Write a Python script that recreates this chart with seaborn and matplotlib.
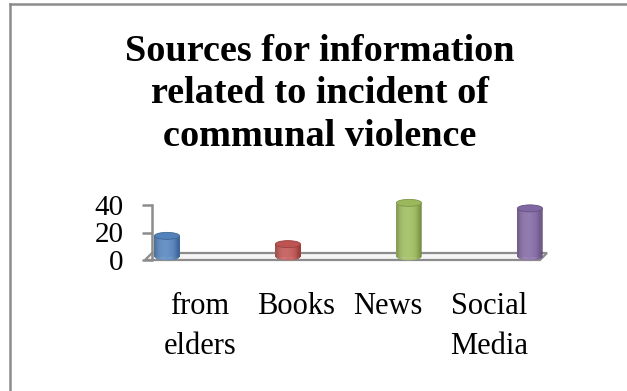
import numpy as np
import pandas as pd
import matplotlib
matplotlib.use("Agg")
import matplotlib.pyplot as plt
import matplotlib.transforms as mtransforms
from matplotlib.patches import Ellipse, Polygon
from matplotlib.lines import Line2D
from matplotlib.collections import PolyCollection
from matplotlib.colors import to_rgb
import seaborn as sns

# ---- data -------------------------------------------------------------
categories = ["from elders", "Books", "News", "Social Media"]
tick_labels = ["from\nelders", "Books", "News", "Social\nMedia"]
values = [15, 9, 39, 35]
colors = ["#4f81bd", "#c0504d", "#9bbb59", "#8064a2"]
y_ticks = [0, 20, 40]
title = "Sources for information\nrelated to incident of\ncommunal violence"

# ---- style ------------------------------------------------------------
sns.set_theme(style="white")
plt.rcParams["font.family"] = ["Liberation Serif", "DejaVu Serif"]

W, H, DPI = 627, 391, 100
fig = plt.figure(figsize=(W / DPI, H / DPI), dpi=DPI)
fig.patch.set_facecolor("white")


def px_rect(x0, y0, x1, y1):
    """Figure-fraction rectangle from a pixel box (origin top-left)."""
    return [x0 / W, 1 - y1 / H, (x1 - x0) / W, (y1 - y0) / H]


ax = fig.add_axes(px_rect(152, 205, 540, 260))
ax.set_facecolor("none")

df = pd.DataFrame({"source": categories, "share": values})
sns.barplot(data=df, x="source", y="share", hue="source", palette=colors,
            width=0.207, saturation=1, legend=False, ax=ax, zorder=3)

ax.set_xlim(-0.095, 3.112)
ax.set_ylim(0, 40)

# oblique depth of the 3-D floor (pixels)
DEPTH = 7.0
ax_w_px, ax_h_px = 388.0, 55.0
y_px_per_unit = ax_h_px / 40.0

# bars stand in the middle of the floor's depth
half = DEPTH / 2 / DPI
bar_trans = ax.transData + mtransforms.ScaledTranslation(half, half, fig.dpi_scale_trans)

# floor plane
floor = Polygon([(-DEPTH / ax_w_px, 0), (1, 0),
                 (1 + DEPTH / ax_w_px, DEPTH / ax_h_px), (0, DEPTH / ax_h_px)],
                closed=True, transform=ax.transAxes, facecolor="#f6f6f6",
                edgecolor="#8c8c8c", lw=1.6, clip_on=False, zorder=1)
ax.add_patch(floor)

# cylinder shading over each seaborn bar
e = (DEPTH / 2) / y_px_per_unit  # half-height of the end ellipses, data units


def shade(base, u):
    base = np.array(to_rgb(base))
    light = max(0.0, 0.16 * (1 - ((u + 0.3) / 1.2) ** 2))
    dark = 0.28 * abs(u) ** 3
    c = base * (1 - dark) + (1 - base) * light
    return np.clip(c, 0, 1)


n = 28
for patch, col in zip(list(ax.patches)[:len(values)], colors):
    x0, w, h = patch.get_x(), patch.get_width(), patch.get_height()
    cx = x0 + w / 2
    patch.set_transform(bar_trans)
    patch.set_edgecolor("none")
    polys, fcs = [], []
    for k in range(n):
        ua = -1 + 2 * k / n
        ub = ua + 2 / n
        xa, xb = cx + ua * w / 2, cx + ub * w / 2
        ya = -e * np.sqrt(max(0.0, 1 - ua ** 2))
        yb = -e * np.sqrt(max(0.0, 1 - ub ** 2))
        polys.append([(xa, ya), (xb, yb), (xb, h), (xa, h)])
        fcs.append(shade(col, (ua + ub) / 2))
    pc = PolyCollection(polys, facecolors=fcs, edgecolors=fcs, linewidths=0.3,
                        transform=bar_trans, zorder=4, clip_on=False)
    ax.add_collection(pc)
    base = np.array(to_rgb(col))
    cap = Ellipse((cx, h), w, 2 * e, transform=bar_trans,
                  facecolor=np.clip(base * 0.95 + 0.03, 0, 1),
                  edgecolor=base * 0.8, lw=0.6, zorder=5, clip_on=False)
    ax.add_patch(cap)

# axes decoration
for side in ("top", "right", "bottom"):
    ax.spines[side].set_visible(False)
ax.spines["left"].set_color("#8c8c8c")
ax.spines["left"].set_linewidth(1.8)
ax.spines["left"].set_zorder(2)

ax.set_yticks(y_ticks, [str(v) for v in y_ticks])
ax.tick_params(axis="y", left=True, length=7.2, width=1.8, color="#8c8c8c",
               pad=13.5, labelsize=21, labelcolor="black")

label_pos = [0.302, 1.095, 1.855, 2.690]
ax.set_xticks(label_pos, tick_labels)
ax.tick_params(axis="x", bottom=False, length=0, pad=23, labelsize=22,
               labelcolor="black")
for lbl in ax.get_xticklabels():
    lbl.set_linespacing(1.5)
ax.set_xlabel("")
ax.set_ylabel("")

# title
fig.text(320 / W, 1 - 34 / H, title, ha="center", va="top", fontsize=27.5,
         fontweight="bold", linespacing=1.27, color="black")

# outer frame: left and top edges only
frame_x, frame_y = 9.5 / W, 1 - 4 / H
fig.add_artist(Line2D([frame_x, frame_x], [0, frame_y], transform=fig.transFigure,
                      color="#8c8c8c", lw=1.8, solid_capstyle="projecting"))
fig.add_artist(Line2D([frame_x, 1], [frame_y, frame_y], transform=fig.transFigure,
                      color="#8c8c8c", lw=1.8, solid_capstyle="projecting"))

fig.savefig("out.png", dpi=DPI)
